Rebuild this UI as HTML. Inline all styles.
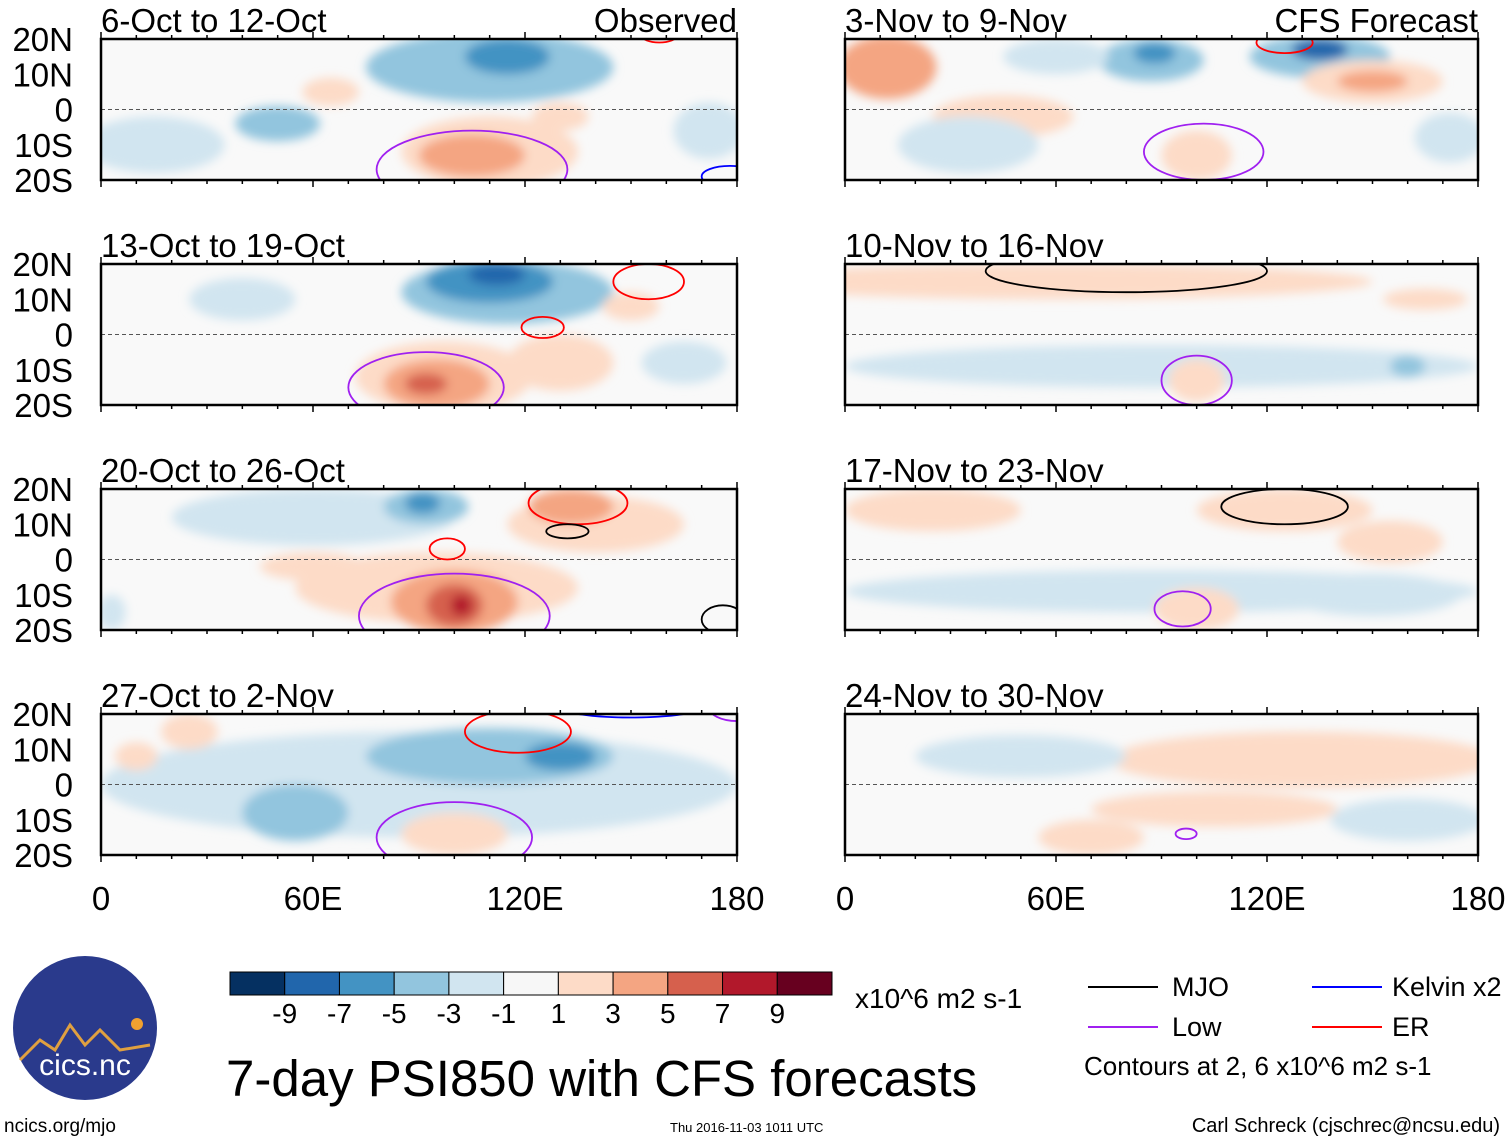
<!DOCTYPE html>
<html><head><meta charset="utf-8"><style>
body{margin:0;background:#fff;font-family:"Liberation Sans",sans-serif}
svg{display:block}
</style></head><body>
<svg id="s" width="1510" height="1142" viewBox="0 0 1510 1142" xmlns="http://www.w3.org/2000/svg">
<defs>
<filter id="bl" x="-50%" y="-50%" width="200%" height="200%"><feGaussianBlur stdDeviation="5"/></filter>
</defs>
<g id="panels"></g>
<g id="cbar"></g>
<text x="855" y="1008" font-size="28">x10^6 m2 s-1</text>
<g font-size="27">
<line x1="1088" y1="987" x2="1158" y2="987" stroke="#000" stroke-width="2"/><text x="1172" y="996">MJO</text>
<line x1="1312" y1="987" x2="1382" y2="987" stroke="#0000ff" stroke-width="2"/><text x="1392" y="996">Kelvin x2</text>
<line x1="1088" y1="1027" x2="1158" y2="1027" stroke="#a020f0" stroke-width="2"/><text x="1172" y="1036">Low</text>
<line x1="1312" y1="1027" x2="1382" y2="1027" stroke="#ff0000" stroke-width="2"/><text x="1392" y="1036">ER</text>
<text x="1084" y="1075" font-size="26">Contours at 2, 6 x10^6 m2 s-1</text>
</g>
<text x="226" y="1096" font-size="51">7-day PSI850 with CFS forecasts</text>
<g>
<circle cx="85" cy="1028" r="72" fill="#2a3a8c"/>
<path d="M20 1060 L40 1040 L55 1050 L70 1025 L85 1045 L100 1030 L120 1050 L150 1045" stroke="#e0a040" stroke-width="3" fill="none"/>
<circle cx="137" cy="1024" r="6" fill="#f0a030"/>
<text x="85" y="1075" font-size="30" fill="#fff" text-anchor="middle">cics.nc</text>
</g>
<text x="4" y="1132" font-size="19">ncics.org/mjo</text>
<text x="670" y="1132" font-size="13">Thu 2016-11-03 1011 UTC</text>
<text x="1500" y="1132" font-size="20" text-anchor="end">Carl Schreck (cjschrec@ncsu.edu)</text>
</svg>
<script>
const levels=[-9,-7,-5,-3,-1,1,3,5,7,9];
const colors=["#053061","#2166ac","#4393c3","#92c5de","#d1e5f0","#f7f7f7","#fddbc7","#f4a582","#d6604d","#b2182b","#67001f"];
const titles=["6-Oct to 12-Oct","13-Oct to 19-Oct","20-Oct to 26-Oct","27-Oct to 2-Nov","3-Nov to 9-Nov","10-Nov to 16-Nov","17-Nov to 23-Nov","24-Nov to 30-Nov"];
const latTicks=["20N","10N","0","10S","20S"];
const lonTicks=["0","60E","120E","180"];
// blobs: [lon, lat, rxDeg, ryDeg, value]
const blobs0=[[15,-10,20,8,-2],[50,-4,12,5,-4],[110,12,35,10,-3],[115,15,12,5,-5],[110,-12,25,10,2],[105,-13,15,6,4],[65,5,8,4,2],[172,-6,10,8,-2],[130,-2,8,4,2]];
const blobs1=[[115,12,30,9,-3],[110,15,18,6,-5],[112,17,8,3,-7],[97,-12,25,10,2],[95,-14,15,7,5],[92,-14,6,3,7],[130,-8,15,8,2],[150,8,8,4,2],[165,-8,12,6,-2],[40,10,15,6,-2]];
const blobs2=[[60,12,40,8,-2],[92,15,12,5,-4],[91,16,5,3,-6],[140,10,25,8,2],[133,15,12,5,4],[95,-8,40,10,2],[100,-12,18,9,4],[100,-13,8,6,6],[102,-13,3,3,8],[60,-2,15,4,2],[3,-15,4,5,-2]];
const blobs3=[[90,0,90,15,-1.5],[110,8,35,8,-3],[130,8,10,4,-5],[55,-8,15,8,-3],[100,-14,15,6,2],[25,15,8,5,2],[10,8,6,4,2]];
const blobs4=[[12,12,14,9,4],[6,12,5,5,5],[87,14,15,6,-4],[88,16,6,3,-6],[135,15,20,6,-4],[135,17,8,3,-7],[150,8,20,6,3],[150,8,10,3,5],[45,-2,20,6,2],[35,-10,20,8,-2],[100,-13,10,7,3],[172,-8,10,7,-2],[60,15,15,5,-2]];
const blobs5=[[60,15,90,5,2],[90,-9,90,6,-1.5],[100,-13,8,6,2],[165,10,12,3,2],[160,-9,5,3,-3]];
const blobs6=[[25,14,25,6,2],[125,14,25,6,2],[90,-9,90,6,-1.5],[100,-14,12,6,3],[150,-10,25,6,-2],[155,5,15,6,2]];
const blobs7=[[130,7,55,8,2],[150,6,20,5,3],[50,8,30,6,-2],[105,-7,35,5,2],[160,-10,22,6,-2],[70,-15,15,5,2]];
const allBlobs=[blobs0,blobs1,blobs2,blobs3,blobs4,blobs5,blobs6,blobs7];
// contour ellipses: [lon, lat, rx, ry, color]
const contours=[
 [[105,-17,27,11,"#a020f0"],[158,21,5,2,"#ff0000"],[178,-19,8,3,"#0000ff"]],
 [[92,-15,22,10,"#a020f0"],[155,15,10,5,"#ff0000"],[125,2,6,3,"#ff0000"]],
 [[100,-16,27,12,"#a020f0"],[135,16,14,6,"#ff0000"],[132,8,6,2,"#000"],[98,3,5,3,"#ff0000"],[176,-17,6,4,"#000"]],
 [[100,-15,22,10,"#a020f0"],[118,15,15,6,"#ff0000"],[150,24,25,5,"#0000ff"],[180,22,8,4,"#a020f0"]],
 [[102,-12,17,8,"#a020f0"],[125,19,8,3,"#ff0000"]],
 [[100,-13,10,7,"#a020f0"],[80,18,40,6,"#000"],[115,24,12,4,"#0000ff"]],
 [[96,-14,8,5,"#a020f0"],[125,15,18,5,"#000"]],
 [[97,-14,3,1.5,"#a020f0"]]
];
const NS="http://www.w3.org/2000/svg";
function el(t,a,p){const e=document.createElementNS(NS,t);for(const k in a)e.setAttribute(k,a[k]);p.appendChild(e);return e;}
function colorOf(v){let i=0;while(i<levels.length&&v>levels[i])i++;return colors[i];}
const pg=document.getElementById('panels');
const defs=document.querySelector('defs');
const rowsY=[39,264,489,714];
for(let p=0;p<8;p++){
 const x0=p<4?101:845, x1=p<4?737:1478, y0=rowsY[p%4], y1=y0+141;
 const X=lon=>x0+(x1-x0)*lon/180, Y=lat=>y0+(y1-y0)*(20-lat)/40;
 const g=el('g',{},pg);
 
 
 const cp=el('clipPath',{id:'cp'+p},defs);el('rect',{x:x0,y:y0,width:x1-x0,height:y1-y0},cp);
 el('rect',{x:x0,y:y0,width:x1-x0,height:y1-y0,fill:"#f9f9f9"},g);
 const bg=el('g',{'clip-path':'url(#cp'+p+')'},g);
 const fg=el('g',{filter:'url(#bl)'},bg);
 for(const b of allBlobs[p]){
  const e=el('ellipse',{cx:X(b[0]),cy:Y(b[1]),rx:(x1-x0)*b[2]/180,ry:(y1-y0)*b[3]/40,fill:colorOf(b[4])},fg);
  
  
 }
 el('line',{x1:x0,x2:x1,y1:Y(0),y2:Y(0),stroke:"#555","stroke-dasharray":"4 3","stroke-width":1},bg);
 for(const c of contours[p]){
  const e=el('ellipse',{cx:X(c[0]),cy:Y(c[1]),rx:(x1-x0)*c[2]/180,ry:(y1-y0)*c[3]/40,fill:"none",stroke:c[4],"stroke-width":1.8},bg);
  
  
 }
 el('rect',{x:x0,y:y0,width:x1-x0,height:y1-y0,fill:"none",stroke:"#000","stroke-width":2.5},g);
 for(let l=0;l<=180;l+=10){const len=l%60==0?7:4;
  el('line',{x1:X(l),x2:X(l),y1:y0,y2:y0-len,stroke:"#000","stroke-width":1.5},g);
  el('line',{x1:X(l),x2:X(l),y1:y1,y2:y1+len,stroke:"#000","stroke-width":1.5},g);}
 const t=el('text',{x:x0,y:y0-7,"font-size":33},g);t.textContent=titles[p];
 
 
 if(p==0||p==4){const r=el('text',{x:x1,y:y0-7,"font-size":33,"text-anchor":"end"},g);r.textContent=p==0?"Observed":"CFS Forecast";
  
  }
 if(p<4){latTicks.forEach((s,i)=>{const tt=el('text',{x:73,y:y0+i*(y1-y0)/4+12,"font-size":33,"text-anchor":"end"},g);tt.textContent=s;
  
  });}
 if(p%4==3){lonTicks.forEach((s,i)=>{const tt=el('text',{x:X(i*60),y:910,"font-size":33,"text-anchor":"middle"},g);tt.textContent=s;
  
  });}
}
const cb=document.getElementById('cbar');
const bw=(832-230)/colors.length;
colors.forEach((c,i)=>{const r=el('rect',{x:230+i*bw,y:972,width:bw,height:23,fill:c,stroke:"#000","stroke-width":1},cb);
 
 });
levels.forEach((v,i)=>{const t=el('text',{x:230+(i+1)*bw,y:1023,"font-size":28,"text-anchor":"middle"},cb);t.textContent=v;
 
 });
</script>
</body></html>
